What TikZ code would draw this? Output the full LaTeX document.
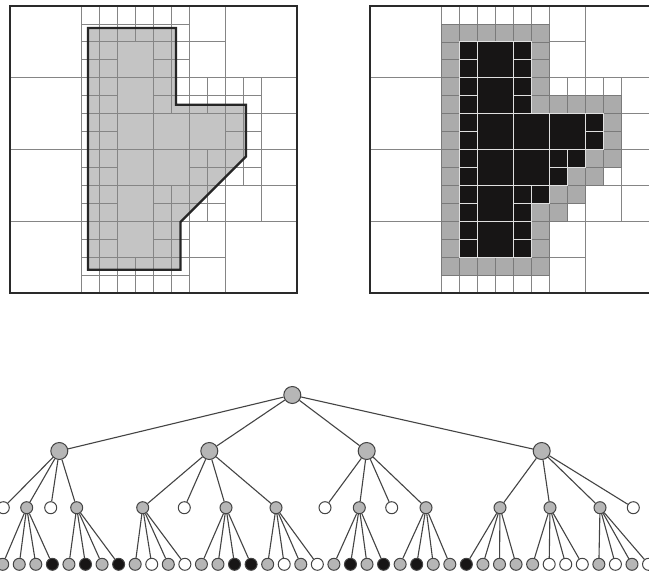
\documentclass[tikz,border=0pt]{standalone}
\definecolor{gridc}{HTML}{858585}
\definecolor{cellg}{HTML}{ABABAB}
\definecolor{polyg}{HTML}{C4C4C4}
\definecolor{cellb}{HTML}{171515}
\definecolor{framec}{HTML}{2A2A2A}
\definecolor{treeg}{HTML}{B6B6B6}
\definecolor{edgec}{HTML}{444444}
\colorlet{nW}{white}
\colorlet{nG}{treeg}
\colorlet{nB}{cellb}
\tikzset{
  gridline/.style={draw=gridc, line width=0.8pt},
  greyline/.style={draw=black!52, line width=0.7pt},
  frameline/.style={draw=framec, line width=2.2pt},
  polyline/.style={draw=black!85, line width=2.3pt, line join=miter},
  tnode/.style={circle, draw=edgec, line width=1pt, inner sep=0pt},
  bignode/.style={tnode, minimum size=17pt, fill=treeg},
  smallnode/.style={tnode, minimum size=12pt},
  edgeline/.style={draw=edgec, line width=1.1pt},
}
\def\cellsW{0/0/8,0/8/8,0/16/8,0/24/8,24/0/8,24/24/8,
 8/0/2,10/0/2,12/0/2,14/0/2,16/0/2,18/0/2,
 20/0/4,20/4/4,
 8/30/2,10/30/2,12/30/2,14/30/2,16/30/2,18/30/2,
 20/24/4,20/28/4,
 20/8/2,22/8/2,24/8/2,26/8/2,28/8/4,28/12/4,
 26/18/2,28/16/4,24/20/4,28/20/4,22/22/2}
\def\cellsG{8/2/2,10/2/2,12/2/2,14/2/2,16/2/2,18/2/2,
 8/4/2,8/6/2,8/8/2,8/10/2,8/12/2,8/14/2,8/16/2,8/18/2,8/20/2,8/22/2,8/24/2,8/26/2,
 8/28/2,10/28/2,12/28/2,14/28/2,16/28/2,18/28/2,
 18/4/2,18/6/2,18/8/2,18/10/2,
 20/10/2,22/10/2,24/10/2,26/10/2,
 26/12/2,26/14/2,
 24/16/2,26/16/2,24/18/2,22/18/2,
 18/22/2,20/20/2,22/20/2,20/22/2,
 18/24/2,18/26/2}
\def\cellsB{10/4/2,10/6/2,10/8/2,10/10/2,10/12/2,10/14/2,10/16/2,10/18/2,10/20/2,10/22/2,10/24/2,10/26/2,
 12/4/4,12/8/4,12/12/4,12/16/4,12/20/4,12/24/4,
 16/4/2,16/6/2,16/8/2,16/10/2,
 16/12/4,20/12/4,
 24/12/2,24/14/2,
 16/16/4,
 20/16/2,22/16/2,20/18/2,
 16/20/2,18/20/2,16/22/2,
 16/24/2,16/26/2}
\begin{document}
\begin{tikzpicture}[x=1pt,y=-1pt]
\useasboundingbox (0,0) rectangle (649,573);
\clip (0,0) rectangle (649,573);
\fill[white] (0,0) rectangle (649,573);

% ---------- left panel: quadtree over the polygon ----------
\begin{scope}[shift={(10,6)}, x=8.97pt, y=-8.97pt]
  \fill[polyg] (8.7,2.45) -- (18.5,2.45) -- (18.5,11) -- (26.3,11) -- (26.3,16.8)
     -- (19,24.1) -- (19,29.4) -- (8.7,29.4) -- cycle;
  \foreach \x/\y/\s in \cellsW {\draw[gridline] (\x,\y) rectangle ++(\s,\s);}
  \foreach \x/\y/\s in \cellsG {\draw[gridline] (\x,\y) rectangle ++(\s,\s);}
  \foreach \x/\y/\s in \cellsB {\draw[gridline] (\x,\y) rectangle ++(\s,\s);}
  \draw[polyline] (8.7,2.45) -- (18.5,2.45) -- (18.5,11) -- (26.3,11) -- (26.3,16.8)
     -- (19,24.1) -- (19,29.4) -- (8.7,29.4) -- cycle;
  \draw[frameline] (0,0) rectangle (32,32);
\end{scope}

% ---------- right panel: classified cells ----------
\begin{scope}[shift={(370,6)}, x=8.97pt, y=-8.97pt]
  \foreach \x/\y/\s in \cellsG {\fill[cellg] (\x,\y) rectangle ++(\s,\s);}
  \foreach \x/\y/\s in \cellsW {\draw[gridline] (\x,\y) rectangle ++(\s,\s);}
  \foreach \x/\y/\s in \cellsG {\draw[greyline] (\x,\y) rectangle ++(\s,\s);}
  \foreach \x/\y/\s in \cellsB {\draw[fill=cellb, draw=white!88!black, line width=1.1pt] (\x,\y) rectangle ++(\s,\s);}
  \draw[frameline] (0,0) rectangle (32,32);
\end{scope}

% ---------- tree ----------
\node[bignode] (r) at (292.3,395) {};
\node[bignode] (a1) at (59.3,451) {};
\node[bignode] (a2) at (209.3,451) {};
\node[bignode] (a3) at (366.7,451) {};
\node[bignode] (a4) at (541.7,451) {};
\foreach \i/\x/\t in {1/3.3/W,2/26.7/G,3/50.7/W,4/76.7/G,
                      5/142.7/G,6/184.3/W,7/226/G,8/276/G,
                      9/325/W,10/359.3/G,11/391.7/W,12/426/G,
                      13/500/G,14/550/G,15/600/G,16/633.3/W}
  {\node[smallnode, fill=n\t] (b\i) at (\x,507.7) {};}
\foreach \i/\t in {0/G,1/G,2/G,3/B,4/G,5/B,6/G,7/B,8/G,9/W,
                   10/G,11/W,12/G,13/G,14/B,15/B,16/G,17/W,18/G,19/W,
                   20/G,21/B,22/G,23/B,24/G,25/B,26/G,27/G,28/B,29/G,
                   30/G,31/G,32/G,33/W,34/W,35/W,36/G,37/W,38/G,39/W}
  {\node[smallnode, fill=n\t] (c\i) at ({2.7+16.56*\i},564.3) {};}
\foreach \i in {1,2,3,4} {\draw[edgeline] (r) -- (a\i);}
\foreach \i in {1,...,16} {
  \pgfmathtruncatemacro\p{int((\i-1)/4)+1}
  \draw[edgeline] (a\p) -- (b\i);
}
\foreach \k/\p in {0/2,1/4,2/5,3/7,4/8,5/10,6/12,7/13,8/14,9/15} {
  \foreach \j in {0,...,3} {
    \pgfmathtruncatemacro\q{4*\k+\j}
    \draw[edgeline] (b\p) -- (c\q);
  }
}
\end{tikzpicture}
\end{document}
